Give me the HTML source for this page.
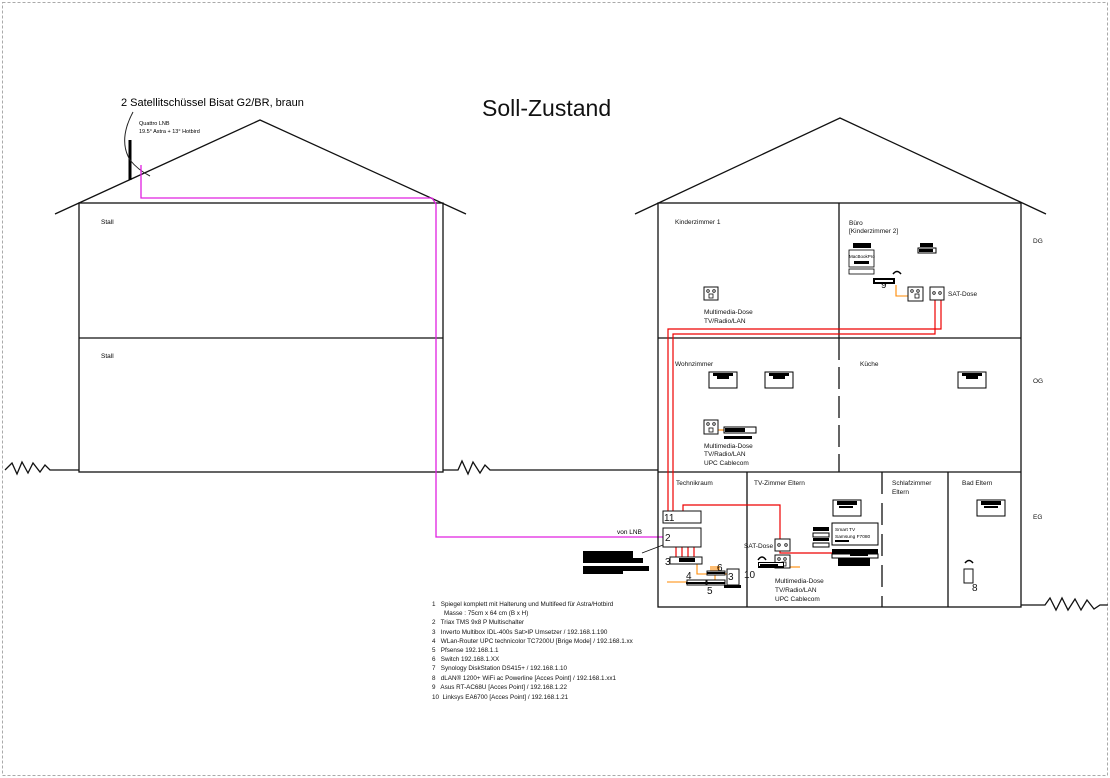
<!DOCTYPE html>
<html><head><meta charset="utf-8"><style>
html,body{margin:0;padding:0;background:#fff}
svg{display:block;font-family:"Liberation Sans",sans-serif}
.lg text{white-space:pre}
</style></head><body>
<svg width="1110" height="778" viewBox="0 0 1110 778" xmlns="http://www.w3.org/2000/svg">
<rect x="2.5" y="2.5" width="1105" height="773" fill="none" stroke="#aaa" stroke-dasharray="3,2"/>
<text x="482" y="116" font-size="23" fill="#111">Soll-Zustand</text>

<!-- left house -->
<g stroke="#111" stroke-width="1.3" fill="none">
<polyline points="55,214 260,120 466,214"/>
<rect x="79" y="203" width="364" height="269"/>
<line x1="79" y1="338" x2="443" y2="338"/>
<polyline points="5,470 12,463 17,474 22,462 28,473 33,463 40,472 45,465 50,470 79,470"/>
<polyline points="443,470 458,470 462,461 468,474 473,462 480,473 485,465 490,470 658,470"/>
<polyline points="1021,605 1045,605 1050,598 1056,610 1062,598 1068,610 1075,599 1081,610 1087,600 1094,609 1100,605 1108,605"/>
</g>
<text x="101" y="224" font-size="6.5">Stall</text>
<text x="101" y="358" font-size="6.5">Stall</text>
<!-- antenna -->
<line x1="130" y1="180" x2="130" y2="140" stroke="#000" stroke-width="3"/>
<path d="M133,112 Q118,140 130,160 Q138,170 150,176" fill="none" stroke="#222" stroke-width="1"/>
<text x="121" y="106" font-size="11">2 Satellitschüssel Bisat G2/BR, braun</text>
<text x="139" y="125" font-size="5.5">Quattro LNB</text>
<text x="139" y="133" font-size="5.5">19.5° Astra + 13° Hotbird</text>
<polyline points="141,165 141,198 432,198 436,204 436,537 663,537" fill="none" stroke="#e020e0" stroke-width="1.3"/>
<text x="617" y="534" font-size="6.5">von LNB</text>

<!-- right house -->
<g stroke="#111" stroke-width="1.3" fill="none">
<polyline points="635,214 840,118 1046,214"/>
<rect x="658" y="203" width="363" height="404"/>
<line x1="658" y1="338" x2="1021" y2="338"/>
<line x1="658" y1="472" x2="1021" y2="472"/>
<line x1="839" y1="203" x2="839" y2="338"/>
<line x1="839" y1="338" x2="839" y2="472" stroke-dasharray="22,7"/>
<line x1="747" y1="472" x2="747" y2="607"/>
<line x1="882" y1="472" x2="882" y2="607" stroke-dasharray="22,9"/>
<line x1="948" y1="472" x2="948" y2="607"/>
</g>
<g font-size="6.5" fill="#111">
<text x="1033" y="243">DG</text><text x="1033" y="383">OG</text><text x="1033" y="519">EG</text>
<text x="675" y="224">Kinderzimmer 1</text>
<text x="849" y="225">Büro</text><text x="849" y="233">[Kinderzimmer 2]</text>
<text x="675" y="366">Wohnzimmer</text><text x="860" y="366">Küche</text>
<text x="676" y="485">Technikraum</text><text x="754" y="485">TV-Zimmer Eltern</text>
<text x="892" y="485">Schlafzimmer</text><text x="892" y="494">Eltern</text>
<text x="962" y="485">Bad Eltern</text>
<text x="704" y="314">Multimedia-Dose</text><text x="704" y="323">TV/Radio/LAN</text>
<text x="704" y="448">Multimedia-Dose</text><text x="704" y="456">TV/Radio/LAN</text><text x="704" y="465">UPC Cablecom</text>
<text x="775" y="583">Multimedia-Dose</text><text x="775" y="592">TV/Radio/LAN</text><text x="775" y="601">UPC Cablecom</text>
<text x="948" y="296">SAT-Dose</text>
<text x="744" y="548">SAT-Dose</text>
</g>

<!-- red cables -->
<g fill="none" stroke="#e00" stroke-width="1.2">
<polyline points="668,512 668,329 941,329 941,296"/>
<polyline points="673,512 673,334 935,334 935,296"/>
<polyline points="683,512 683,505 780,505 780,553 852,553"/>
<line x1="676" y1="547" x2="676" y2="557"/><line x1="682" y1="547" x2="682" y2="557"/>
<line x1="688" y1="547" x2="688" y2="557"/><line x1="694" y1="547" x2="694" y2="557"/>
</g>
<!-- orange -->
<g fill="none" stroke="#f80" stroke-width="1.1">
<polyline points="896,285 896,296 913,296"/>
<polyline points="717,430 724,430"/>
<polyline points="785,567 800,567"/>
<polyline points="697,564 697,574 710,574"/>
<line x1="667" y1="582" x2="687" y2="582"/>
<line x1="715" y1="574" x2="715" y2="580"/>
<line x1="725" y1="574" x2="733" y2="574"/>
<line x1="711" y1="566" x2="711" y2="572"/><line x1="713" y1="566" x2="713" y2="572"/><line x1="715" y1="566" x2="715" y2="572"/><line x1="717" y1="566" x2="717" y2="572"/><line x1="719" y1="566" x2="719" y2="572"/>
</g>

<!-- technikraum boxes -->
<g stroke="#111" stroke-width="1" fill="#fff">
<rect x="663" y="511" width="38" height="12"/>
<rect x="663" y="528" width="38" height="19"/>
<rect x="670" y="557" width="32" height="7"/>
<rect x="727" y="569" width="12" height="16"/>
<rect x="687" y="580" width="19" height="5"/>
<rect x="707" y="571" width="18" height="4"/>
<rect x="707" y="580" width="18" height="5"/>
</g>
<rect x="679" y="558" width="16" height="4" fill="#000"/>
<rect x="724" y="585" width="17" height="3" fill="#000"/>
<rect x="686" y="582" width="20" height="2" fill="#000"/>
<rect x="707" y="572" width="18" height="2" fill="#000"/>
<rect x="707" y="582" width="18" height="2" fill="#000"/>
<g font-size="10" fill="#111">
<text x="664" y="521">11</text><text x="665" y="541">2</text><text x="665" y="565">3</text>
<text x="686" y="579">4</text><text x="707" y="594">5</text><text x="717" y="571">6</text><text x="728" y="580">3</text>
<text x="744" y="578">10</text><text x="881" y="288">9</text><text x="972" y="591">8</text>
</g>
<line x1="663" y1="545" x2="642" y2="553" stroke="#111" stroke-width="0.8"/>
<rect x="583" y="551" width="50" height="7" fill="#000"/>
<rect x="583" y="558" width="60" height="5" fill="#000"/>
<rect x="583" y="566" width="66" height="5" fill="#000"/>
<rect x="583" y="571" width="40" height="3" fill="#000"/>

<!-- multimedia sockets -->
<g stroke="#111" stroke-width="1" fill="#fff">
<rect x="704" y="287" width="14" height="13"/>
<rect x="704" y="420" width="14" height="14"/>
<rect x="775" y="555" width="15" height="13"/>
<rect x="775" y="539" width="15" height="12"/>
<rect x="908" y="287" width="15" height="14"/>
<rect x="930" y="287" width="14" height="13"/>
<rect x="964" y="569" width="9" height="14"/>
</g>
<g fill="none" stroke="#111" stroke-width="0.8">
<circle cx="708" cy="291" r="1.3"/><circle cx="714" cy="291" r="1.3"/><rect x="709" y="294" width="4" height="4"/>
<circle cx="708" cy="424" r="1.3"/><circle cx="714" cy="424" r="1.3"/><rect x="709" y="428" width="4" height="4"/>
<circle cx="779" cy="559" r="1.3"/><circle cx="785" cy="559" r="1.3"/><rect x="782" y="562" width="4" height="4"/>
<circle cx="779" cy="545" r="1.3"/><circle cx="786" cy="545" r="1.3"/>
<circle cx="912" cy="291" r="1.3"/><circle cx="918" cy="291" r="1.3"/><rect x="915" y="294" width="4" height="4"/>
<circle cx="934" cy="293" r="1.3"/><circle cx="940" cy="293" r="1.3"/>
</g>
<!-- router bars -->
<rect x="724" y="427" width="32" height="6" fill="#fff" stroke="#000"/><rect x="725" y="428" width="20" height="4" fill="#000"/>
<rect x="724" y="436" width="28" height="3" fill="#000"/>
<rect x="758" y="562" width="26" height="6" fill="#000"/><rect x="759" y="563" width="24" height="3" fill="#fff"/><rect x="760" y="564" width="18" height="2" fill="#000"/>
<rect x="873" y="278" width="22" height="6" fill="#000"/><rect x="875" y="280" width="18" height="2" fill="#fff"/>
<rect x="920" y="243" width="13" height="4" fill="#000"/><rect x="918" y="248" width="18" height="5" fill="#fff" stroke="#000"/><rect x="919" y="249" width="14" height="3" fill="#000"/>
<!-- macbook -->
<rect x="853" y="243" width="18" height="5" fill="#000"/>
<rect x="849" y="250" width="25" height="17" fill="#fff" stroke="#000" stroke-width="0.8"/>
<text x="849" y="258" font-size="4.5">MacBookPro</text>
<rect x="854" y="261" width="15" height="3" fill="#000"/>
<rect x="849" y="269" width="25" height="5" fill="#fff" stroke="#000" stroke-width="0.8"/>
<!-- wifi arcs -->
<g fill="none" stroke="#000" stroke-width="1.5">
<path d="M893,274 Q897,269 901,274"/><path d="M758,560 Q762,554 766,560"/><path d="M965,563 Q969,558 973,563"/>
</g>
<!-- TVs -->
<g>
<rect x="709" y="372" width="28" height="16" fill="#fff" stroke="#000"/><rect x="713" y="373" width="20" height="3" fill="#000"/><rect x="717" y="376" width="12" height="3" fill="#000"/>
<rect x="765" y="372" width="28" height="16" fill="#fff" stroke="#000"/><rect x="769" y="373" width="20" height="3" fill="#000"/><rect x="773" y="376" width="12" height="3" fill="#000"/>
<rect x="958" y="372" width="28" height="16" fill="#fff" stroke="#000"/><rect x="962" y="373" width="20" height="3" fill="#000"/><rect x="966" y="376" width="12" height="3" fill="#000"/>
<rect x="833" y="500" width="28" height="16" fill="#fff" stroke="#000"/><rect x="837" y="501" width="20" height="4" fill="#000"/><rect x="839" y="506" width="14" height="2" fill="#000"/>
<rect x="977" y="500" width="28" height="16" fill="#fff" stroke="#000"/><rect x="981" y="501" width="20" height="4" fill="#000"/><rect x="984" y="506" width="14" height="2" fill="#000"/>
</g>
<!-- smart TV -->
<rect x="832" y="523" width="46" height="22" fill="#fff" stroke="#000"/>
<text x="835" y="531" font-size="4.8">Smart TV</text><text x="835" y="538" font-size="4.8">Samsung F7080</text>
<rect x="835" y="540" width="14" height="2" fill="#000"/>
<rect x="832" y="549" width="46" height="5" fill="#000"/>
<rect x="832" y="554" width="46" height="4" fill="#fff" stroke="#000"/>
<rect x="850" y="553" width="18" height="3" fill="#000"/>
<rect x="838" y="558" width="32" height="8" fill="#000"/>
<rect x="813" y="527" width="16" height="4" fill="#000"/>
<rect x="813" y="533" width="16" height="4" fill="#fff" stroke="#000"/>
<rect x="813" y="538" width="16" height="3" fill="#000"/>
<rect x="813" y="543" width="16" height="4" fill="#fff" stroke="#000"/>

<!-- legend -->
<g class="lg" font-size="6.3" fill="#111">
<text x="432" y="606">1   Spiegel komplett mit Halterung und Multifeed für Astra/Hotbird</text>
<text x="444" y="615">Masse : 75cm x 64 cm (B x H)</text>
<text x="432" y="624">2   Triax TMS 9x8 P Multischalter</text>
<text x="432" y="634">3   Inverto Multibox IDL-400s Sat&gt;IP Umsetzer / 192.168.1.190</text>
<text x="432" y="643">4   WLan-Router UPC technicolor TC7200U [Brige Mode] / 192.168.1.xx</text>
<text x="432" y="652">5   Pfsense 192.168.1.1</text>
<text x="432" y="661">6   Switch 192.168.1.XX</text>
<text x="432" y="670">7   Synology DiskStation DS415+ / 192.168.1.10</text>
<text x="432" y="680">8   dLAN® 1200+ WiFi ac Powerline [Acces Point] / 192.168.1.xx1</text>
<text x="432" y="689">9   Asus RT-AC68U [Acces Point] / 192.168.1.22</text>
<text x="432" y="699">10  Linksys EA6700 [Acces Point] / 192.168.1.21</text>
</g>
</svg>
</body></html>
